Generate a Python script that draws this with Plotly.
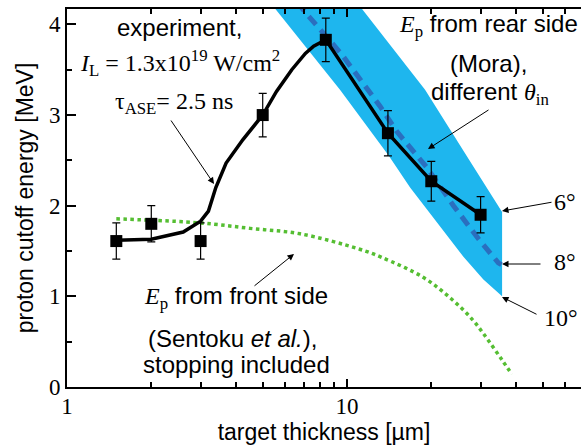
import plotly.graph_objects as go
import numpy as np

# ---- data ----
thickness = [1.5, 2.0, 3.0, 5.0, 8.4, 14.0, 20.0, 30.0]
energy = [1.61, 1.80, 1.61, 3.00, 3.83, 2.80, 2.27, 1.90]
energy_err = [0.20, 0.20, 0.20, 0.24, 0.24, 0.25, 0.22, 0.20]

guide_x = [1.5, 2.0, 2.6, 3.0, 3.2, 3.4, 3.7, 4.25, 5.0, 5.6, 6.35, 7.1, 7.6, 8.4, 14.0, 20.0, 30.0]
guide_y = [1.62, 1.63, 1.71, 1.83, 1.94, 2.20, 2.47, 2.73, 3.00, 3.26, 3.50, 3.68, 3.76, 3.83, 2.80, 2.27, 1.90]

front_x = [1.5, 3.0, 4.5, 6.8, 11.1, 13.3, 18.7, 23.5, 27.9, 31.8, 35.9, 38.8]
front_y = [1.855, 1.81, 1.75, 1.69, 1.52, 1.43, 1.21, 0.976, 0.752, 0.524, 0.292, 0.14]

mora6_x = [9.9, 11.3, 19.0, 28.3, 35.8]
mora6_y = [4.4, 4.17, 3.28, 2.43, 1.93]
mora10_x = [4.9, 5.55, 9.44, 14.1, 16.8, 21.2, 26.0, 30.7, 35.8]
mora10_y = [4.4, 4.17, 3.28, 2.55, 2.20, 1.79, 1.44, 1.185, 1.00]
mora8_x = [6.07, 7.07, 9.57, 13.1, 15.05, 19.3, 24.0, 29.9, 34.7, 35.6]
mora8_y = [4.4, 4.14, 3.67, 3.10, 2.82, 2.42, 2.00, 1.61, 1.37, 1.35]

x_major = [1, 10]
x_minor = [2, 3, 4, 5, 6, 7, 8, 9, 20, 30, 40, 50, 60]
y_major = [0, 1, 2, 3, 4]

SANS = "Liberation Sans, Arial, sans-serif"
SERIF = "Liberation Serif, Times New Roman, serif"

fig = go.Figure()

band_x = mora6_x + mora10_x[::-1]
band_y = mora6_y + mora10_y[::-1]
fig.add_trace(go.Scatter(x=band_x, y=band_y, fill="toself", mode="lines",
                         line=dict(width=0), fillcolor="#1EB6EE", hoverinfo="skip"))
fig.add_trace(go.Scatter(x=mora8_x, y=mora8_y, mode="lines",
                         line=dict(color="#2A6FBF", width=5, dash="11px,7px")))
fig.add_trace(go.Scatter(x=front_x, y=front_y, mode="lines",
                         line=dict(color="#55BE32", width=3.5, dash="3.5px,3.5px", shape="spline")))
fig.add_trace(go.Scatter(x=guide_x, y=guide_y, mode="lines",
                         line=dict(color="black", width=3.5)))
fig.add_trace(go.Scatter(x=thickness, y=energy, mode="markers",
                         marker=dict(symbol="square", size=12, color="black"),
                         error_y=dict(type="data", array=energy_err, color="black",
                                      thickness=1.2, width=4)))

W, H = 581, 447
L, R, T, B = 67, 0, 9, 60
pw, ph = W - L - R, H - T - B


def px(xp):
    return (xp - L) / pw


def py(yp):
    return (H - B - yp) / ph


annos = []


def text(xp, yp, s, size=24, family=SANS):
    annos.append(dict(x=px(xp), y=py(yp), xref="paper", yref="paper", text=s,
                      showarrow=False, font=dict(family=family, size=size, color="black"),
                      xanchor="center", yanchor="middle"))


def arrow(tx, ty, hx, hy):
    annos.append(dict(x=px(hx), y=py(hy), xref="paper", yref="paper", text="",
                      showarrow=True, ax=tx - hx, ay=ty - hy, arrowhead=2,
                      arrowsize=1.3, arrowwidth=1, arrowcolor="black"))


def serif(s):
    return '<span style="font-family:Liberation Serif">' + s + '</span>'


text(179, 28, "experiment,")
text(180, 63, serif("<i>I</i><sub>L</sub> = 1.3x10<sup>19</sup> W/cm<sup>2</sup>"), family=SERIF)
text(174, 103, serif("τ<sub>ASE</sub>= 2.5 ns"), family=SERIF)
text(488, 25, serif("<i>E</i><sub>p</sub>") + " from rear side")
text(488, 63, "(Mora),")
text(490, 93, "different " + serif("<i>θ</i><sub>in</sub>"))
text(565, 202, "6°", family=SERIF)
text(565, 262, "8°", family=SERIF)
text(561, 318, "10°", family=SERIF)
text(236, 297, serif("<i>E</i><sub>p</sub>") + " from front side")
text(232, 338, "(Sentoku <i>et al.</i>),")
text(236, 364, "stopping included")

arrow(170, 119, 214, 184)
arrow(490, 109, 428, 149)
arrow(553, 202, 502, 211)
arrow(542, 264, 502, 264)
arrow(538, 315, 502, 297)
arrow(253, 287, 294, 254)

fig.update_layout(
    width=W, height=H, margin=dict(l=L, r=R, t=T, b=B),
    paper_bgcolor="white", plot_bgcolor="white", showlegend=False,
    annotations=annos,
    xaxis=dict(type="log", range=[0, np.log10(68.5)], showline=True, linewidth=2,
               linecolor="black", mirror="allticks", ticks="inside", ticklen=8,
               tickwidth=1.5, tickcolor="black", tickmode="array", tickvals=x_major,
               ticktext=[str(v) for v in x_major], showgrid=False, zeroline=False,
               ticklabelstandoff=-3,
               tickfont=dict(family=SERIF, size=23, color="black"),
               minor=dict(ticks="inside", ticklen=5, tickwidth=1.5, tickcolor="black",
                          tickmode="array", tickvals=x_minor, showgrid=False),
               title=dict(text="target thickness [µm]", standoff=0,
                          font=dict(family=SANS, size=23, color="black"))),
    yaxis=dict(range=[0, 4.17], showline=True, linewidth=2, linecolor="black",
               ticks="inside", ticklen=9, tickwidth=1.5, tickcolor="black",
               tickmode="array", tickvals=y_major, showgrid=False, zeroline=False,
               tickfont=dict(family=SERIF, size=23, color="black"),
               minor=dict(ticks="inside", ticklen=5, tickwidth=1.5, tickcolor="black",
                          dtick=0.5, showgrid=False),
               title=dict(text="proton cutoff energy [MeV]", standoff=9,
                          font=dict(family=SANS, size=23, color="black"))),
)

fig.write_html("out.html", config={"displayModeBar": False},
               post_script="document.body.style.margin='0';document.body.style.overflow='hidden';")
